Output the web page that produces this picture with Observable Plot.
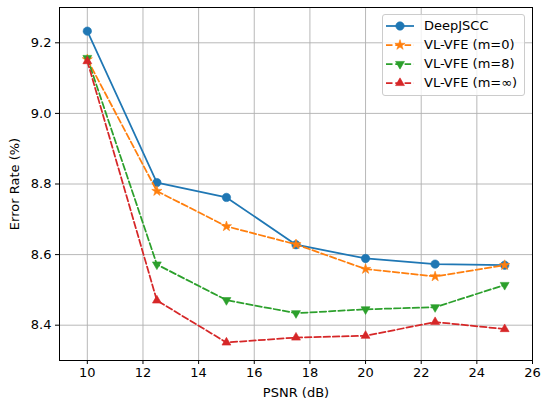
<!DOCTYPE html>
<html>
<head>
<meta charset="utf-8">
<script src="https://cdn.jsdelivr.net/npm/d3@7"></script>
<script src="https://cdn.jsdelivr.net/npm/@observablehq/plot@0.6"></script>
<style>
  body { margin: 0; background: #fff; font-family: "DejaVu Sans", sans-serif; }
  #wrap { position: relative; width: 541px; height: 401px; }
  #legend { position: absolute; left: 382px; top: 14px; width: 143px; height: 82px;
    border: 1px solid #cccccc; border-radius: 3px; background: rgba(255,255,255,0.8);
    box-sizing: border-box; font-size: 13px; color: #000; }
  .row { position: absolute; left: 0; height: 19px; display: flex; align-items: center; }
  .row svg { margin-left: 2px; }
  .row span { margin-left: 9px; white-space: nowrap; }
</style>
</head>
<body>
<div id="wrap"><div id="legend"></div></div>
<script>
const psnr = [10, 12.5, 15, 17.5, 20, 22.5, 25];
const deepjscc = [9.233, 8.804, 8.762, 8.628, 8.589, 8.573, 8.570];
const vlvfe0 = [9.153, 8.780, 8.680, 8.629, 8.559, 8.538, 8.570];
const vlvfe8 = [9.157, 8.572, 8.471, 8.434, 8.445, 8.451, 8.514];
const vlvfeInf = [9.148, 8.470, 8.351, 8.365, 8.370, 8.409, 8.389];
const seriesNames = ["DeepJSCC", "VL-VFE (m=0)", "VL-VFE (m=8)", "VL-VFE (m=∞)"];
const seriesValues = [deepjscc, vlvfe0, vlvfe8, vlvfeInf];
const seriesColors = ["#1f77b4", "#ff7f0e", "#2ca02c", "#d62728"];
const seriesSymbols = ["circle", "star", "triangle", "triangle"];
const seriesRotate = [0, 0, 180, 0];
const seriesDash = [null, "6.5,2.8", "6.5,2.8", "6.5,2.8"];
const seriesR = [4.2, 3.2, 3.3, 3.3];
const xTicks = [10, 12, 14, 16, 18, 20, 22, 24, 26];
const yTicks = [8.4, 8.6, 8.8, 9.0, 9.2];

const marks = [
  Plot.gridX(xTicks, {stroke: "#b0b0b0", strokeOpacity: 1, strokeWidth: 0.9}),
  Plot.gridY(yTicks, {stroke: "#b0b0b0", strokeOpacity: 1, strokeWidth: 0.9}),
];
seriesNames.forEach((name, i) => {
  const data = psnr.map((x, j) => ({x, y: seriesValues[i][j]}));
  marks.push(Plot.line(data, {x: "x", y: "y", stroke: seriesColors[i], strokeWidth: 1.75,
    strokeDasharray: seriesDash[i] || undefined}));
  marks.push(Plot.dot(data, {x: "x", y: "y", fill: seriesColors[i], stroke: seriesColors[i], strokeWidth: 0.6,
    symbol: seriesSymbols[i], r: seriesR[i], rotate: seriesRotate[i]}));
});
marks.push(
  Plot.frame({stroke: "#000", strokeWidth: 1}),
  Plot.axisX(xTicks, {tickSize: 4, tickPadding: 3, fontSize: 13, label: "PSNR (dB)", labelAnchor: "center", labelArrow: "none", labelOffset: 36, tickFormat: d => d}),
  Plot.axisY(yTicks, {tickSize: 4, tickPadding: 4, fontSize: 13, label: "Error Rate (%)", labelAnchor: "center", labelArrow: "none", labelOffset: 50, tickFormat: d => d.toFixed(1)})
);

const chart = Plot.plot({
  width: 541, height: 401,
  marginLeft: 59, marginRight: 9, marginTop: 7, marginBottom: 41,
  style: {fontFamily: "DejaVu Sans, sans-serif", fontSize: "13px", color: "#000", background: "#fff"},
  x: {domain: [9, 26]},
  y: {domain: [8.3, 9.3]},
  marks
});
document.getElementById("wrap").prepend(chart);

// legend
const legend = document.getElementById("legend");
seriesNames.forEach((name, i) => {
  const row = document.createElement("div");
  row.className = "row";
  row.style.top = (1 + i * 19) + "px";
  const sym = d3.symbol().type({circle: d3.symbolCircle, star: d3.symbolStar, triangle: d3.symbolTriangle}[seriesSymbols[i]]).size(Math.PI * seriesR[i] * seriesR[i]);
  row.innerHTML = `<svg width="30" height="14"><line x1="1" x2="29" y1="7" y2="7" stroke="${seriesColors[i]}" stroke-width="1.75" ${seriesDash[i] ? `stroke-dasharray="${seriesDash[i]}"` : ""}/><path d="${sym()}" transform="translate(15,7) rotate(${seriesRotate[i]})" fill="${seriesColors[i]}" stroke="${seriesColors[i]}" stroke-width="0.6"/></svg><span>${name}</span>`;
  legend.appendChild(row);
});
</script>
</body>
</html>
